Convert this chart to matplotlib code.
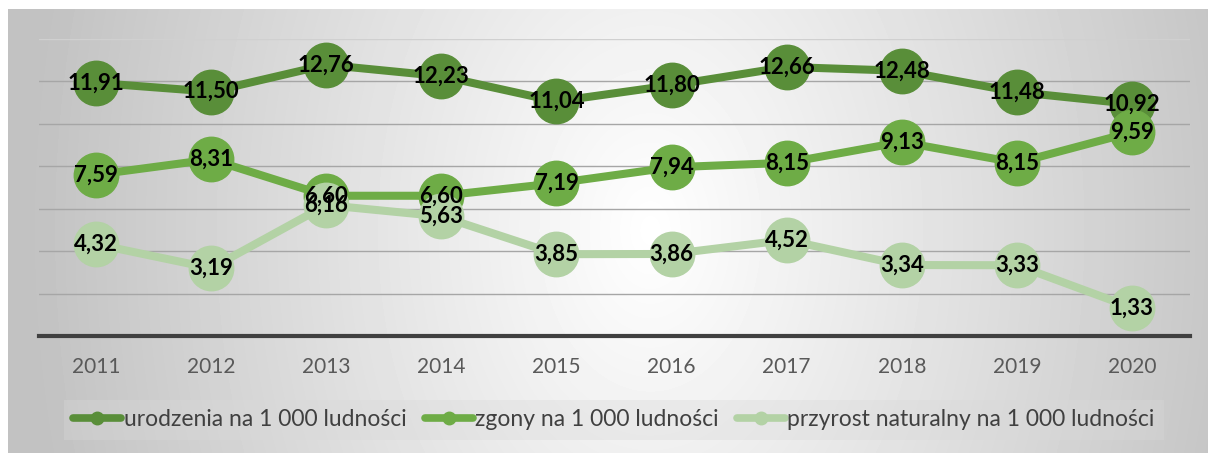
import matplotlib
matplotlib.use('Agg')
import matplotlib.pyplot as plt
from matplotlib.lines import Line2D
import numpy as np

plt.rcParams['font.family'] = ['Lato', 'DejaVu Sans']

years = ['2011', '2012', '2013', '2014', '2015', '2016', '2017', '2018', '2019', '2020']
urodzenia = [11.91, 11.50, 12.76, 12.23, 11.04, 11.80, 12.66, 12.48, 11.48, 10.92]
zgony = [7.59, 8.31, 6.60, 6.60, 7.19, 7.94, 8.15, 9.13, 8.15, 9.59]
przyrost = [4.32, 3.19, 6.16, 5.63, 3.85, 3.86, 4.52, 3.34, 3.33, 1.33]
labels = ['urodzenia na 1 000 ludności', 'zgony na 1 000 ludności',
          'przyrost naturalny na 1 000 ludności']
colors = ['#598E39', '#6EAC46', '#B3D2A5']

W, H = 1208, 453
fig = plt.figure(figsize=(W / 100, H / 100), dpi=100)

# gradient background of the chart area
bg = fig.add_axes([8 / W, 0, 1 - 8 / W, (H - 9) / H], zorder=-10)
yy, xx = np.mgrid[9:H, 8:W]
d = np.sqrt(((xx - 650) / 620.0) ** 2 + ((yy - 230) / 900.0) ** 2)
shade = 1 - 0.24 * np.clip(d, 0, 1)
bg.imshow(shade, cmap='gray', vmin=0, vmax=1, aspect='auto', interpolation='bilinear')
bg.axis('off')

ax = fig.add_axes([38.5 / W, (H - 336) / H, (1189.5 - 38.5) / W, (336 - 38.5) / H])
ax.set_facecolor('none')
x = np.arange(len(years))

for i, (vals, col) in enumerate(zip([urodzenia, zgony, przyrost], colors)):
    ax.plot(x, vals, color=col, lw=5.8, marker='o', ms=32, mec=col,
            clip_on=False, zorder=3 + i)
for vals in [urodzenia, zgony, przyrost]:
    for xi, v in zip(x, vals):
        ax.text(xi, v, f'{v:.2f}'.replace('.', ','), ha='center', va='center',
                fontsize=16, fontweight='bold', color='black', zorder=10)

ax.set_xlim(-0.5, 9.5)
ax.set_ylim(0, 14)
ax.set_yticks(np.arange(0, 15, 2))
ax.yaxis.grid(True, color='#a6a6a6', lw=1)
ax.get_ygridlines()[-1].set_color('#d0d0d0')
ax.set_axisbelow(True)
ax.set_yticklabels([])
ax.set_xticks(x)
ax.set_xticklabels(years, fontsize=15, color='#595959')
ax.tick_params(length=0, pad=15)
for s in ['left', 'right', 'top']:
    ax.spines[s].set_visible(False)
ax.spines['bottom'].set_color('#404040')
ax.spines['bottom'].set_linewidth(3)

handles = [Line2D([], [], color=c, lw=5.5, marker='o', ms=9, solid_capstyle='round') for c in colors]
leg = fig.legend(handles, labels, loc='center', bbox_to_anchor=(614 / W, 1 - 420 / H),
                 ncol=3, fontsize=16.5, frameon=True, fancybox=False, facecolor='#d9d9d9',
                 edgecolor='none', framealpha=0.35, handlelength=2.1, handletextpad=0.1,
                 columnspacing=0.8, borderpad=0.4, borderaxespad=0)
for t in leg.get_texts():
    t.set_color('#404040')

fig.savefig('out.png', dpi=100)
